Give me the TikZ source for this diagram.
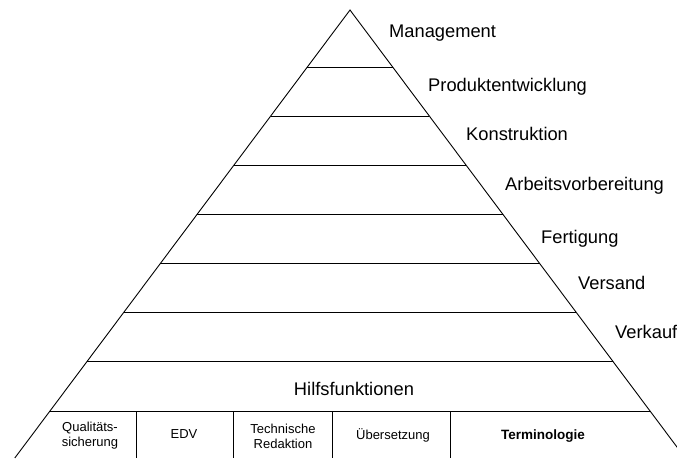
\documentclass[tikz,border=0pt]{standalone}
\usepackage{fontspec}
\setmainfont{Liberation Sans}
\usetikzlibrary{positioning}

\begin{document}
\begin{tikzpicture}[
			x=1pt, y=-1pt,
			every node/.style={inner sep=0pt},
			tier/.style={anchor=base west, font=\fontsize{18.3}{20}\selectfont},
			cell/.style={align=center, font=\fontsize{13}{15}\selectfont},
			line/.style={line width=0.9pt}
			]
			
			\clip (0,0) rectangle (677,458);
			
			% outline of the pyramid
			\coordinate (apex) at (350,10);
			\coordinate (footL) at (14.8,458);
			\coordinate (footR) at (685.2,458);
			\draw[line] (footL) -- (apex) -- (footR);
			
			% levels
			\foreach \i in {0,...,7} {
				\pgfmathsetmacro{\yy}{67+49.143*\i}
				\pgfmathsetmacro{\hw}{0.7481*(\yy-10)}
				\draw[line] (350-\hw,\yy) -- (350+\hw,\yy);
			}
			
			% cells of the bottom row
			\foreach \xx in {136,233,332,450}
				\draw[line] (\xx,411) -- (\xx,458);
			
			\node[tier] (mgmt) at (389,37) {Management};
			\node[tier] (prod) at (428,91) {Produktentwicklung};
			\node[tier] (konst) at (466,140) {Konstruktion};
			\node[tier] (avor) at (505,190) {Arbeitsvorbereitung};
			\node[tier] (fert) at (541,243) {Fertigung};
			\node[tier] (vers) at (578,289) {Versand};
			\node[tier] (verk) at (615,338) {Verkauf};
			\node[tier, anchor=base] (hilfs) at (354,395) {Hilfsfunktionen};
			
			\node[cell] (qs) at (90,436) {Qualitäts-\\sicherung};
			\node[cell, anchor=base] (edv) at (184,438) {EDV};
			\node[cell] (tr) at (283,436) {Technische\\Redaktion};
			\node[cell, anchor=base] (ueb) at (393,439) {Übersetzung};
			\node[cell, anchor=base, font=\fontsize{13.5}{15}\selectfont\bfseries] (term) at (543,439) {Terminologie};
		\end{tikzpicture}
\end{document}
